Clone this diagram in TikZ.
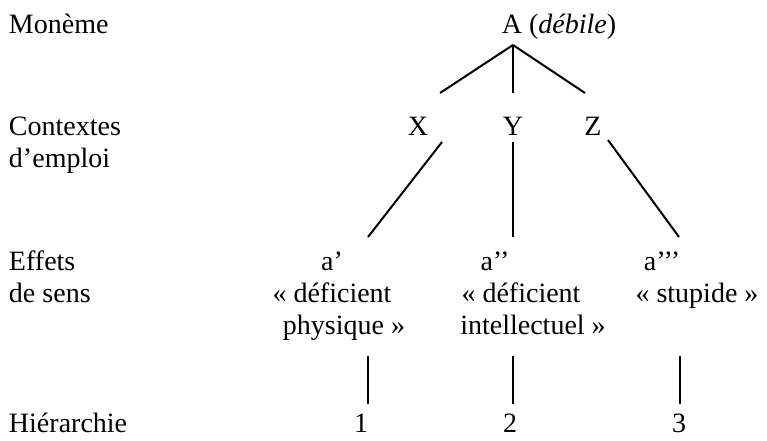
\documentclass[tikz,border=0pt]{standalone}
\usepackage{fontspec}
\setmainfont{Liberation Serif}
\begin{document}
\begin{tikzpicture}[x=1pt,y=-1pt,
  txt/.style={inner sep=0pt,outer sep=0pt,anchor=base,font=\fontsize{28}{32}\selectfont},
  lbl/.style={txt,anchor=base west},
  lastrow/.style={text depth=0pt},
  edge/.style={line width=2pt,black}]
\useasboundingbox (0,0) rectangle (767,440);
% left labels
\node[lbl] (l1) at (9,33) {Monème};
\node[lbl] (l2a) at (9,135) {Contextes};
\node[lbl] (l2b) at (9,167) {d’emploi};
\node[lbl] (l3a) at (9,270) {Effets};
\node[lbl] (l3b) at (9,302) {de sens};
\node[lbl,lastrow] (l4) at (9,432) {Hiérarchie};
% tree text
\node[txt] (A) at (559,33) {A (\textit{débile})};
\node[txt] (X) at (418,135) {X};
\node[txt] (Y) at (513,135) {Y};
\node[txt] (Z) at (593,135) {Z};
\node[txt] (a1) at (332,270) {a’};
\node[txt] (a1b) at (332,302) {«~déficient};
\node[txt] (a1c) at (344,334) {physique~»};
\node[txt] (a2) at (495,270) {a’’};
\node[txt] (a2b) at (521,302) {«~déficient};
\node[txt] (a2c) at (533,334) {intellectuel~»};
\node[txt] (a3) at (662,270) {a’’’};
\node[txt] (a3b) at (697,302) {«~stupide~»};
\node[txt,lastrow] (n1) at (361,432) {1};
\node[txt,lastrow] (n2) at (510,432) {2};
\node[txt,lastrow] (n3) at (679,432) {3};
% connector ends
\coordinate (root) at (513,45);
\coordinate (xt) at (440,93);
\coordinate (yt) at (513,93);
\coordinate (zt) at (585,93);
\coordinate (xb) at (442,142);
\coordinate (yb) at (513,142);
\coordinate (zb) at (608,140);
\coordinate (at1) at (368,237);
\coordinate (at2) at (513,237);
\coordinate (at3) at (679,237);
\coordinate (ab1) at (368,356);
\coordinate (ab2) at (513,356);
\coordinate (ab3) at (680,356);
\coordinate (nt1) at (368,404);
\coordinate (nt2) at (513,404);
\coordinate (nt3) at (680,404);
\draw[edge] (root) -- (xt);
\draw[edge] (root) -- (yt);
\draw[edge] (root) -- (zt);
\draw[edge] (xb) -- (at1);
\draw[edge] (yb) -- (at2);
\draw[edge] (zb) -- (at3);
\draw[edge] (ab1) -- (nt1);
\draw[edge] (ab2) -- (nt2);
\draw[edge] (ab3) -- (nt3);
\end{tikzpicture}
\end{document}
